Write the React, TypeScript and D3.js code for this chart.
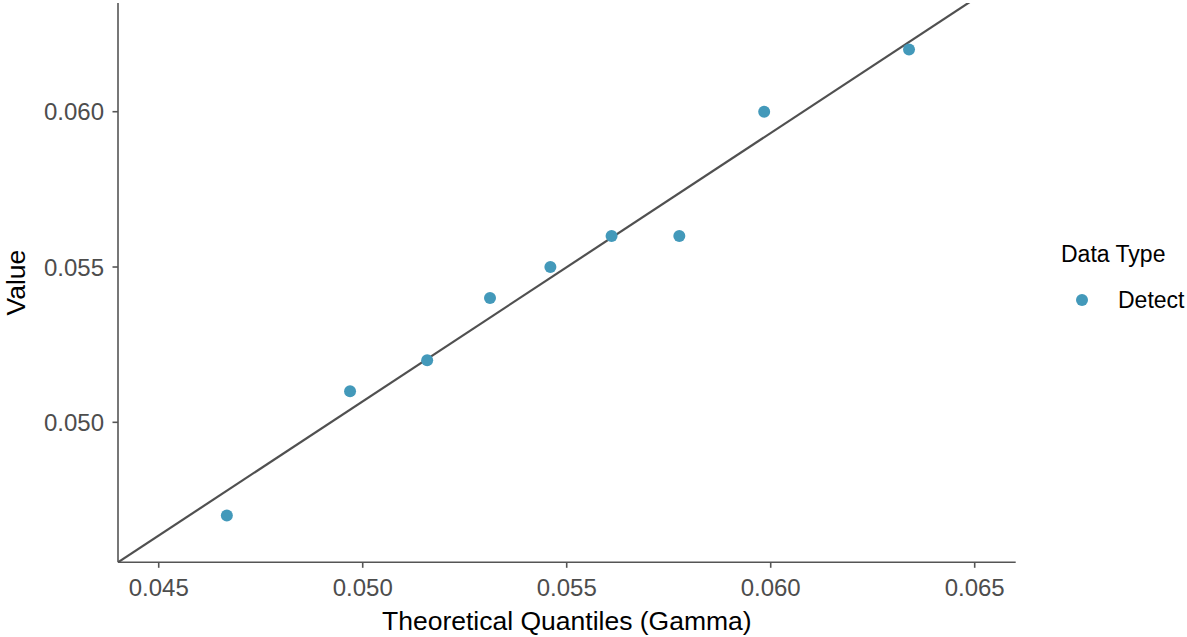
import React from "react";
import * as d3 from "d3";

const theoretical = [0.04667, 0.04969, 0.05158, 0.05312, 0.05460, 0.05610, 0.05776, 0.05984, 0.06339];
const values = [0.047, 0.051, 0.052, 0.054, 0.055, 0.056, 0.056, 0.060, 0.062];
const xTicks = [0.045, 0.050, 0.055, 0.060, 0.065];
const yTicks = [0.050, 0.055, 0.060];
const refIntercept = 0.007475;
const refSlope = 0.864;
const legendTitle = "Data Type";
const legendLabels = ["Detect"];

const W = 1187, H = 637;
const left = 118, right = 1015.7, top = 3, bottom = 562.3;
const pointColor = "#4399BA";
const font = "'Liberation Sans', Arial, sans-serif";

export default function App() {
  const x = d3.scaleLinear().domain([0.044002, 0.066005]).range([left, right]);
  const y = d3.scaleLinear().domain([0.045493, 0.0635]).range([bottom, top]);
  const [x0, x1] = x.domain();
  const lineData: [number, number][] = [
    [x0, refIntercept + refSlope * x0],
    [x1, refIntercept + refSlope * x1],
  ];
  const line = d3.line<[number, number]>().x(d => x(d[0])).y(d => y(d[1]));
  return (
    <svg width={W} height={H} style={{ position: "absolute", left: 0, top: 0 }} fontFamily={font}>
      <defs>
        <clipPath id="clip">
          <rect x={left} y={top} width={right - left} height={bottom - top} />
        </clipPath>
      </defs>
      <rect width={W} height={H} fill="white" />
      {/* axes */}
      <line x1={left} x2={left} y1={top} y2={bottom} stroke="#555" strokeWidth={1.6} />
      <line x1={left} x2={right} y1={bottom} y2={bottom} stroke="#555" strokeWidth={1.6} />
      {xTicks.map(t => (
        <g key={"x" + t}>
          <line x1={x(t)} x2={x(t)} y1={bottom} y2={bottom + 5.5} stroke="#555" strokeWidth={1.6} />
          <text x={x(t)} y={bottom + 34} textAnchor="middle" fontSize={24} fill="#4D4D4D">{d3.format(".3f")(t)}</text>
        </g>
      ))}
      {yTicks.map(t => (
        <g key={"y" + t}>
          <line x1={left - 5.5} x2={left} y1={y(t)} y2={y(t)} stroke="#555" strokeWidth={1.6} />
          <text x={left - 14} y={y(t) + 8.5} textAnchor="end" fontSize={24} fill="#4D4D4D">{d3.format(".3f")(t)}</text>
        </g>
      ))}
      <text x={(left + right) / 2} y={630} textAnchor="middle" fontSize={26.5} fill="black">Theoretical Quantiles (Gamma)</text>
      <text transform={`translate(25, ${(top + bottom) / 2}) rotate(-90)`} textAnchor="middle" fontSize={26.5} fill="black">Value</text>
      <path d={line(lineData) || ""} clipPath="url(#clip)" stroke="#505050" strokeWidth={2.2} fill="none" />
      {theoretical.map((t, i) => (
        <circle key={i} cx={x(t)} cy={y(values[i])} r={6} fill={pointColor} />
      ))}
      {/* legend */}
      <text x={1061} y={262} fontSize={23} fill="black">{legendTitle}</text>
      {legendLabels.map((l, i) => (
        <g key={l}>
          <circle cx={1082} cy={300 + i * 30} r={6} fill={pointColor} />
          <text x={1118} y={308 + i * 30} fontSize={23} fill="black">{l}</text>
        </g>
      ))}
    </svg>
  );
}
